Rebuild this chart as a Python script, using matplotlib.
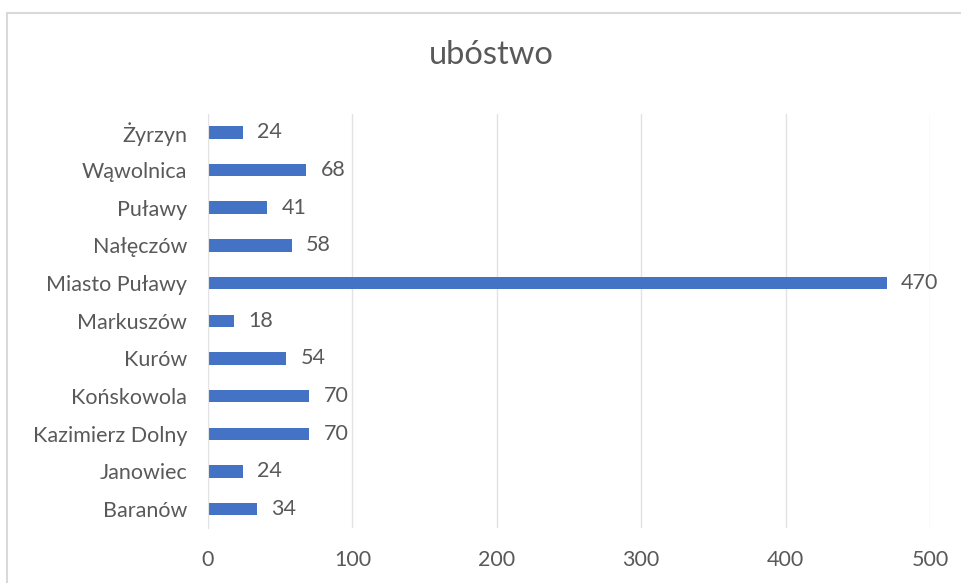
import matplotlib.pyplot as plt
from matplotlib.patches import Rectangle

categories = ["Baranów", "Janowiec", "Kazimierz Dolny", "Końskowola", "Kurów",
              "Markuszów", "Miasto Puławy", "Nałęczów", "Puławy", "Wąwolnica",
              "Żyrzyn"]
values = [34, 24, 70, 70, 54, 18, 470, 58, 41, 68, 24]
x_ticks = [0, 100, 200, 300, 400, 500]


def main():
    plt.rcParams['font.family'] = ['Lato', 'DejaVu Sans']
    text_color = '#595959'

    fig = plt.figure(figsize=(9.61, 5.83), dpi=100)
    ax = fig.add_axes([0.2164, 0.0943, 0.7513, 0.7110])

    # chart border like in excel
    fig.patches.append(Rectangle((0.007, -0.01), 1.1, 0.987,
                                 transform=fig.transFigure, fill=False,
                                 edgecolor='#d9d9d9', linewidth=1.5))

    pos = range(len(categories))
    ax.barh(pos, values, height=0.33, color='#4472C4')

    for y, v in zip(pos, values):
        ax.text(v + 10, y, str(v), va='center', ha='left', fontsize=15.5,
                color=text_color)

    ax.set_xlim(0, 500)
    ax.set_ylim(-0.5, len(categories) - 0.5)
    ax.set_xticks(x_ticks)
    ax.set_yticks(list(pos))
    ax.set_yticklabels(categories)
    ax.tick_params(axis='both', length=0, labelsize=15.5, colors=text_color)
    ax.tick_params(axis='x', pad=16)
    ax.tick_params(axis='y', pad=15)

    ax.grid(axis='x', color='#e3e3e3', linewidth=1)
    ax.set_axisbelow(True)
    for side in ['top', 'right', 'bottom']:
        ax.spines[side].set_visible(False)
    ax.spines['left'].set_color('#e3e3e3')

    fig.text(0.511, 0.906, "ubóstwo", ha='center', va='center',
             fontsize=23.5, color=text_color)

    fig.savefig("out.png", dpi=100)


if __name__ == "__main__":
    main()
